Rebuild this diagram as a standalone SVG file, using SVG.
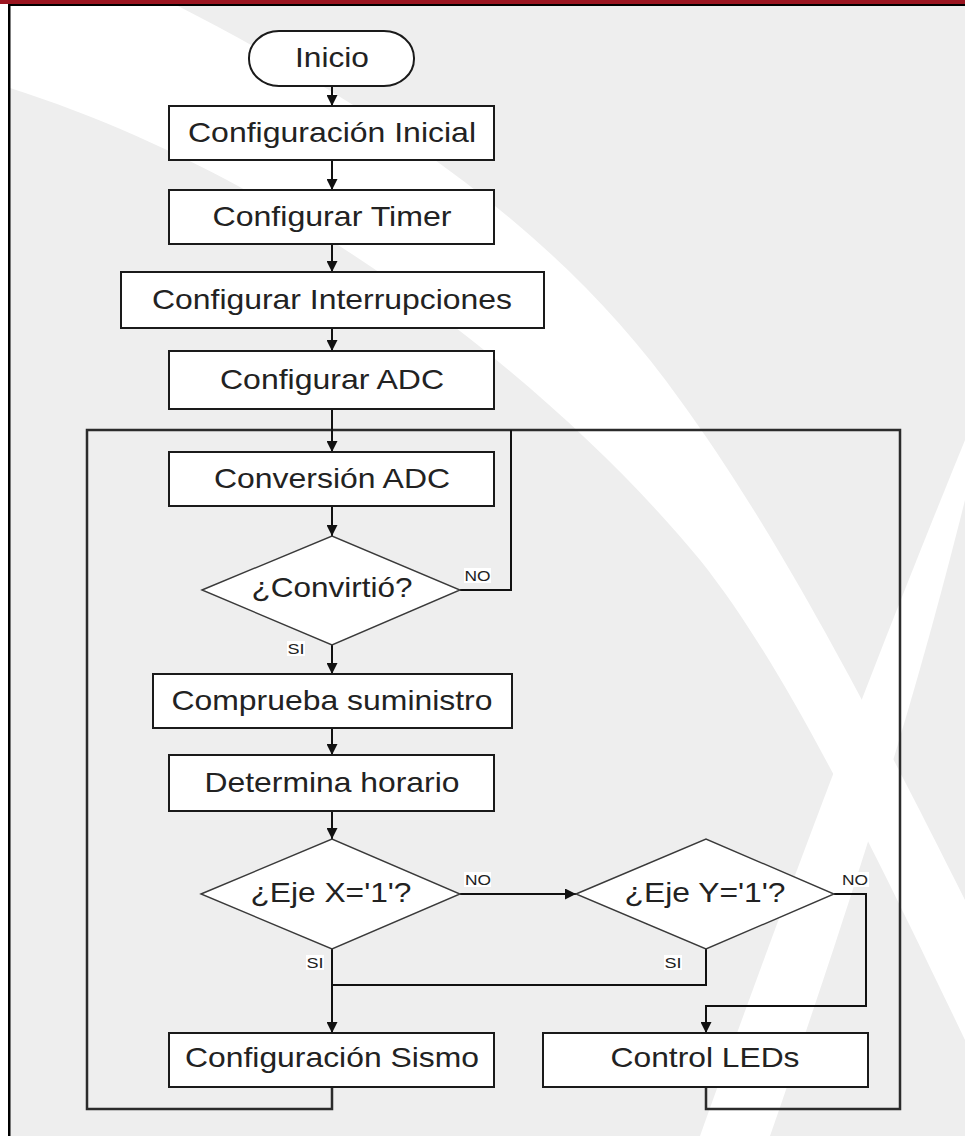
<svg xmlns="http://www.w3.org/2000/svg" width="965" height="1136" viewBox="0 0 965 1136">
  <defs>
    <marker id="arrow" viewBox="0 0 10 10" refX="10" refY="5" markerWidth="11" markerHeight="11" markerUnits="userSpaceOnUse" orient="auto">
      <path d="M0,0 L10,5 L0,10 Z" fill="#111"/>
    </marker>
    <style>
      .box { fill: #ffffff; stroke: #1a1a1a; stroke-width: 2; }
      .dec { fill: #ffffff; stroke: #3a3a3a; stroke-width: 1.4; }
      .lbl { font-family: "Liberation Sans", Arial, sans-serif; font-size: 28px; fill: #222; text-anchor: middle; }
      .tag { font-family: "Liberation Sans", Arial, sans-serif; font-size: 14px; fill: #222; text-anchor: middle; }
      .tagbg { fill: #ffffff; }
      .wire { fill: none; stroke: #111; stroke-width: 2; }
      .loop { fill: none; stroke: #2b2b2b; stroke-width: 2.5; }
      .swoosh { fill: #ffffff; }
    </style>
  </defs>

  <!-- page backdrop -->
  <rect x="0" y="0" width="965" height="1136" fill="#ffffff"/>
  <rect x="9" y="5" width="956" height="1131" fill="#eeeeee"/>
  <g id="backdrop-swooshes">
    <path class="swoosh" d="M10,6 L178,6 C380,110 560,230 680,400 C760,510 840,650 965,900 L965,1040 C860,820 780,660 700,560 C560,390 300,180 10,88 Z"/>
    <path class="swoosh" d="M965,440 C900,600 820,800 700,1136 L770,1136 C880,820 930,640 965,500 Z"/>
  </g>
  <!-- header band and left rule -->
  <rect x="0" y="0" width="965" height="4" fill="#9b1520"/>
  <rect x="8" y="4" width="957" height="2" fill="#000"/>
  <rect x="8" y="4" width="2.5" height="1132" fill="#000"/>

  <!-- connectors -->
  <g id="connectors">
    <path class="loop" d="M332,1087 V1109 H87 V430 H900 V1109 H706 V1087"/>
    <path class="wire" d="M460,590 H511 V430"/>
    <path class="wire" d="M332,86 V106" marker-end="url(#arrow)"/>
    <path class="wire" d="M332,160 V190" marker-end="url(#arrow)"/>
    <path class="wire" d="M332,244 V272" marker-end="url(#arrow)"/>
    <path class="wire" d="M332,328 V351" marker-end="url(#arrow)"/>
    <path class="wire" d="M332,409 V452" marker-end="url(#arrow)"/>
    <path class="wire" d="M332,506 V536" marker-end="url(#arrow)"/>
    <path class="wire" d="M332,645 V674" marker-end="url(#arrow)"/>
    <path class="wire" d="M332,728 V755" marker-end="url(#arrow)"/>
    <path class="wire" d="M332,811 V839" marker-end="url(#arrow)"/>
    <path class="wire" d="M460,894 H576" marker-end="url(#arrow)"/>
    <path class="wire" d="M332,949 V1033" marker-end="url(#arrow)"/>
    <path class="wire" d="M706,949 V985 H332"/>
    <path class="wire" d="M834,894 H866 V1006 H706 V1033" marker-end="url(#arrow)"/>
    <!-- branch tags -->
    <rect class="tagbg" x="464" y="568" width="27" height="15"/>
    <text class="tag" x="477.5" y="581" textLength="26" lengthAdjust="spacingAndGlyphs">NO</text>
    <rect class="tagbg" x="287" y="641" width="18" height="15"/>
    <text class="tag" x="296" y="654" textLength="17" lengthAdjust="spacingAndGlyphs">SI</text>
    <rect class="tagbg" x="464" y="872" width="27" height="15"/>
    <text class="tag" x="478" y="885" textLength="26" lengthAdjust="spacingAndGlyphs">NO</text>
    <rect class="tagbg" x="841" y="872" width="28" height="15"/>
    <text class="tag" x="855" y="885" textLength="26" lengthAdjust="spacingAndGlyphs">NO</text>
    <rect class="tagbg" x="306" y="955" width="18" height="15"/>
    <text class="tag" x="315" y="968" textLength="17" lengthAdjust="spacingAndGlyphs">SI</text>
    <rect class="tagbg" x="664" y="955" width="18" height="15"/>
    <text class="tag" x="673" y="968" textLength="17" lengthAdjust="spacingAndGlyphs">SI</text>
  </g>

  <!-- nodes -->
  <g id="inicio">
    <rect class="box" x="249" y="31" width="165" height="55" rx="30" ry="27" stroke-width="1.4"/>
    <text class="lbl" x="332" y="67" textLength="74" lengthAdjust="spacingAndGlyphs">Inicio</text>
  </g>
  <g id="config-inicial">
    <rect class="box" x="169" y="106" width="325" height="54"/>
    <text class="lbl" x="332" y="142" textLength="288" lengthAdjust="spacingAndGlyphs">Configuración Inicial</text>
  </g>
  <g id="config-timer">
    <rect class="box" x="169" y="190" width="325" height="54"/>
    <text class="lbl" x="332" y="226" textLength="239" lengthAdjust="spacingAndGlyphs">Configurar Timer</text>
  </g>
  <g id="config-interrupciones">
    <rect class="box" x="121" y="272" width="423" height="56"/>
    <text class="lbl" x="332" y="309" textLength="360" lengthAdjust="spacingAndGlyphs">Configurar Interrupciones</text>
  </g>
  <g id="config-adc">
    <rect class="box" x="169" y="351" width="325" height="58"/>
    <text class="lbl" x="332" y="389" textLength="224" lengthAdjust="spacingAndGlyphs">Configurar ADC</text>
  </g>
  <g id="conversion-adc">
    <rect class="box" x="169" y="452" width="325" height="54"/>
    <text class="lbl" x="332" y="488" textLength="236" lengthAdjust="spacingAndGlyphs">Conversión ADC</text>
  </g>
  <g id="convirtio">
    <polygon class="dec" points="202,590 332,536 460,590 332,645"/>
    <text class="lbl" x="332" y="597" textLength="161" lengthAdjust="spacingAndGlyphs">¿Convirtió?</text>
  </g>
  <g id="comprueba-suministro">
    <rect class="box" x="153" y="674" width="359" height="54"/>
    <text class="lbl" x="332" y="710" textLength="321" lengthAdjust="spacingAndGlyphs">Comprueba suministro</text>
  </g>
  <g id="determina-horario">
    <rect class="box" x="169" y="755" width="325" height="56"/>
    <text class="lbl" x="332" y="792" textLength="255" lengthAdjust="spacingAndGlyphs">Determina horario</text>
  </g>
  <g id="eje-x">
    <polygon class="dec" points="201,894 332,839 460,894 332,949"/>
    <text class="lbl" x="331" y="902" textLength="161" lengthAdjust="spacingAndGlyphs">¿Eje X='1'?</text>
  </g>
  <g id="eje-y">
    <polygon class="dec" points="576,894 706,839 834,894 706,949"/>
    <text class="lbl" x="705" y="902" textLength="161" lengthAdjust="spacingAndGlyphs">¿Eje Y='1'?</text>
  </g>
  <g id="config-sismo">
    <rect class="box" x="169" y="1033" width="325" height="54"/>
    <text class="lbl" x="332" y="1067" textLength="294" lengthAdjust="spacingAndGlyphs">Configuración Sismo</text>
  </g>
  <g id="control-leds">
    <rect class="box" x="543" y="1033" width="325" height="54"/>
    <text class="lbl" x="705" y="1067" textLength="189" lengthAdjust="spacingAndGlyphs">Control LEDs</text>
  </g>
</svg>
